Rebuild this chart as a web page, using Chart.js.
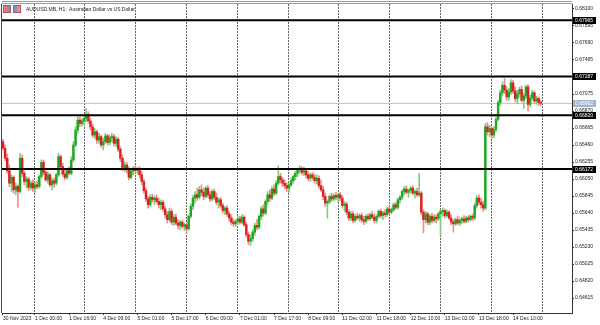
<!DOCTYPE html>
<html>
<head>
<meta charset="utf-8">
<script src="https://cdn.jsdelivr.net/npm/chart.js@4/dist/chart.umd.min.js"></script>
<style>
  html, body { margin: 0; padding: 0; background: #fff; }
  #wrap { position: relative; width: 600px; height: 325px; }
  #title { position: absolute; left: 26px; top: 6px; font: 5px "Liberation Sans", Arial, sans-serif; color: #222; white-space: pre; }
  .ico { position: absolute; top: 5px; width: 6px; height: 6px; border: 1px solid #b55; }
</style>
</head>
<body>
<div id="wrap">
  <canvas id="chart" width="600" height="325"></canvas>
  <span class="ico" style="left:3px;background:linear-gradient(90deg,#e77 50%,#69c 50%)"></span>
  <span class="ico" style="left:13px;background:linear-gradient(90deg,#79c 50%,#e88 50%)"></span>
  <div id="title">AUDUSD.MB, H1:  Australian Dollar vs US Dollar</div>
</div>
<script>
// hourly bars, index 1 = 30 Nov 09:00 ... 253 = 14 Dec 23:00
const opens = [
  0.6650,0.6642,0.6630,0.6615,0.6600,0.6607,0.6592,0.6596,0.6590,0.6630,
  0.6612,0.6602,0.6605,0.6595,0.6600,0.6594,0.6598,0.6596,0.6608,0.6625,
  0.6613,0.6604,0.6610,0.6598,0.6603,0.6600,0.6610,0.6632,0.6620,0.6611,
  0.6607,0.6615,0.6612,0.6628,0.6646,0.6664,0.6676,0.6672,0.6675,0.6678,
  0.6683,0.6675,0.6668,0.6658,0.6662,0.6652,0.6656,0.6646,0.6650,0.6657,
  0.6649,0.6655,0.6656,0.6648,0.6653,0.6641,0.6630,0.6618,0.6622,0.6616,
  0.6607,0.6615,0.6618,0.6615,0.6617,0.6610,0.6602,0.6591,0.6581,0.6574,
  0.6583,0.6580,0.6582,0.6578,0.6574,0.6577,0.6569,0.6562,0.6556,0.6566,
  0.6553,0.6559,0.6552,0.6549,0.6553,0.6548,0.6550,0.6545,0.6560,0.6572,
  0.6582,0.6586,0.6583,0.6592,0.6589,0.6584,0.6594,0.6586,0.6581,0.6590,
  0.6583,0.6577,0.6580,0.6573,0.6567,0.6570,0.6563,0.6558,0.6553,0.6551,
  0.6554,0.6557,0.6553,0.6559,0.6550,0.6538,0.6530,0.6533,0.6541,0.6549,
  0.6547,0.6560,0.6569,0.6564,0.6578,0.6586,0.6582,0.6593,0.6588,0.6600,
  0.6608,0.6604,0.6600,0.6597,0.6594,0.6598,0.6603,0.6608,0.6612,0.6616,
  0.6618,0.6613,0.6615,0.6610,0.6606,0.6610,0.6607,0.6603,0.6606,0.6597,
  0.6592,0.6584,0.6576,0.6578,0.6584,0.6581,0.6585,0.6583,0.6586,0.6582,
  0.6573,0.6575,0.6565,0.6558,0.6563,0.6555,0.6560,0.6558,0.6561,0.6556,
  0.6554,0.6560,0.6557,0.6562,0.6559,0.6555,0.6560,0.6566,0.6561,0.6564,
  0.6562,0.6569,0.6565,0.6568,0.6574,0.6571,0.6580,0.6583,0.6590,0.6593,
  0.6589,0.6591,0.6594,0.6588,0.6590,0.6586,0.6588,0.6565,0.6556,0.6563,
  0.6553,0.6560,0.6555,0.6559,0.6557,0.6563,0.6566,0.6567,0.6561,0.6565,
  0.6558,0.6553,0.6551,0.6556,0.6552,0.6555,0.6557,0.6554,0.6558,0.6556,
  0.6560,0.6558,0.6573,0.6582,0.6577,0.6574,0.6570,0.6668,0.6662,0.6666,
  0.6658,0.6665,0.6677,0.6697,0.6709,0.6718,0.6712,0.6704,0.6710,0.6721,
  0.6711,0.6702,0.6708,0.6713,0.6700,0.6705,0.6716,0.6695,0.6703,0.6709,
  0.6699,0.6702,0.6697
];
const highs = [
  0.6653,0.6646,0.6635,0.6622,0.6610,0.6609,0.6600,0.6598,0.6636,0.6634,
  0.6615,0.6608,0.6607,0.6603,0.6604,0.6601,0.6603,0.6610,0.6628,0.6628,
  0.6618,0.6614,0.6612,0.6606,0.6606,0.6612,0.6636,0.6634,0.6624,0.6616,
  0.6618,0.6620,0.6632,0.6650,0.6668,0.6680,0.6680,0.6678,0.6680,0.6690,
  0.6686,0.6678,0.6671,0.6666,0.6664,0.6660,0.6658,0.6654,0.6660,0.6659,
  0.6658,0.6660,0.6659,0.6656,0.6655,0.6644,0.6634,0.6626,0.6625,0.6620,
  0.6618,0.6620,0.6621,0.6619,0.6620,0.6614,0.6605,0.6594,0.6584,0.6586,
  0.6587,0.6585,0.6586,0.6582,0.6580,0.6579,0.6572,0.6566,0.6570,0.6569,
  0.6562,0.6563,0.6556,0.6555,0.6555,0.6552,0.6552,0.6562,0.6575,0.6585,
  0.6590,0.6594,0.6596,0.6598,0.6594,0.6596,0.6597,0.6590,0.6592,0.6593,
  0.6588,0.6582,0.6583,0.6576,0.6572,0.6573,0.6566,0.6562,0.6557,0.6556,
  0.6560,0.6560,0.6562,0.6561,0.6553,0.6541,0.6538,0.6544,0.6552,0.6556,
  0.6562,0.6572,0.6574,0.6580,0.6590,0.6592,0.6596,0.6598,0.6603,0.6621,
  0.6612,0.6607,0.6604,0.6600,0.6600,0.6606,0.6610,0.6614,0.6618,0.6621,
  0.6620,0.6619,0.6618,0.6614,0.6612,0.6613,0.6611,0.6610,0.6609,0.6604,
  0.6596,0.6588,0.6580,0.6586,0.6588,0.6587,0.6589,0.6587,0.6589,0.6585,
  0.6578,0.6577,0.6568,0.6566,0.6566,0.6562,0.6564,0.6563,0.6564,0.6560,
  0.6562,0.6563,0.6564,0.6566,0.6563,0.6562,0.6568,0.6569,0.6566,0.6568,
  0.6571,0.6572,0.6570,0.6576,0.6577,0.6582,0.6585,0.6592,0.6596,0.6597,
  0.6593,0.6596,0.6597,0.6592,0.6594,0.6612,0.6590,0.6568,0.6566,0.6565,
  0.6562,0.6564,0.6562,0.6562,0.6565,0.6568,0.6570,0.6569,0.6568,0.6567,
  0.6562,0.6556,0.6558,0.6560,0.6558,0.6559,0.6561,0.6560,0.6561,0.6562,
  0.6563,0.6576,0.6585,0.6586,0.6582,0.6578,0.6672,0.6673,0.6670,0.6668,
  0.6668,0.6680,0.6700,0.6712,0.6722,0.6726,0.6716,0.6714,0.6725,0.6724,
  0.6716,0.6712,0.6716,0.6717,0.6708,0.6718,0.6719,0.6706,0.6712,0.6711,
  0.6705,0.6704,0.6700
];
const lows = [
  0.6640,0.6627,0.6612,0.6596,0.6590,0.6588,0.6586,0.6571,0.6588,0.6608,
  0.6598,0.6594,0.6591,0.6592,0.6590,0.6589,0.6593,0.6594,0.6606,0.6610,
  0.6602,0.6600,0.6596,0.6592,0.6595,0.6598,0.6608,0.6618,0.6608,0.6604,
  0.6605,0.6610,0.6610,0.6626,0.6644,0.6660,0.6668,0.6669,0.6670,0.6674,
  0.6672,0.6664,0.6655,0.6654,0.6648,0.6648,0.6643,0.6640,0.6648,0.6646,
  0.6646,0.6650,0.6645,0.6644,0.6638,0.6626,0.6615,0.6614,0.6612,0.6604,
  0.6605,0.6610,0.6612,0.6611,0.6606,0.6598,0.6588,0.6578,0.6570,0.6572,
  0.6577,0.6574,0.6576,0.6570,0.6568,0.6566,0.6558,0.6552,0.6554,0.6550,
  0.6549,0.6550,0.6545,0.6544,0.6546,0.6543,0.6539,0.6543,0.6558,0.6568,
  0.6576,0.6579,0.6581,0.6585,0.6580,0.6582,0.6583,0.6578,0.6579,0.6580,
  0.6574,0.6570,0.6570,0.6564,0.6562,0.6560,0.6554,0.6550,0.6548,0.6548,
  0.6550,0.6551,0.6551,0.6548,0.6535,0.6526,0.6525,0.6530,0.6537,0.6544,
  0.6545,0.6556,0.6560,0.6562,0.6574,0.6578,0.6580,0.6585,0.6586,0.6598,
  0.6600,0.6596,0.6593,0.6590,0.6589,0.6596,0.6600,0.6604,0.6608,0.6612,
  0.6610,0.6609,0.6606,0.6603,0.6602,0.6604,0.6600,0.6599,0.6594,0.6590,
  0.6580,0.6572,0.6558,0.6575,0.6578,0.6579,0.6580,0.6577,0.6579,0.6570,
  0.6566,0.6562,0.6555,0.6555,0.6552,0.6553,0.6556,0.6554,0.6553,0.6550,
  0.6552,0.6555,0.6555,0.6557,0.6552,0.6552,0.6558,0.6558,0.6556,0.6559,
  0.6560,0.6562,0.6563,0.6566,0.6568,0.6569,0.6576,0.6580,0.6586,0.6587,
  0.6583,0.6588,0.6586,0.6582,0.6584,0.6584,0.6562,0.6540,0.6552,0.6550,
  0.6550,0.6552,0.6553,0.6552,0.6555,0.6537,0.6560,0.6558,0.6559,0.6556,
  0.6550,0.6541,0.6549,0.6550,0.6549,0.6551,0.6552,0.6552,0.6553,0.6554,
  0.6555,0.6556,0.6570,0.6574,0.6570,0.6566,0.6568,0.6658,0.6656,0.6654,
  0.6655,0.6662,0.6675,0.6694,0.6705,0.6708,0.6700,0.6700,0.6707,0.6708,
  0.6698,0.6696,0.6704,0.6698,0.6690,0.6702,0.6687,0.6692,0.6700,0.6696,
  0.6695,0.6694,0.6693
];
const closes = [
  0.6642,0.6630,0.6615,0.6600,0.6607,0.6592,0.6596,0.6590,0.6630,0.6612,
  0.6602,0.6605,0.6595,0.6600,0.6594,0.6598,0.6596,0.6608,0.6625,0.6613,
  0.6604,0.6610,0.6598,0.6603,0.6600,0.6610,0.6632,0.6620,0.6611,0.6607,
  0.6615,0.6612,0.6628,0.6646,0.6664,0.6676,0.6672,0.6675,0.6678,0.6683,
  0.6675,0.6668,0.6658,0.6662,0.6652,0.6656,0.6646,0.6650,0.6657,0.6649,
  0.6655,0.6656,0.6648,0.6653,0.6641,0.6630,0.6618,0.6622,0.6616,0.6607,
  0.6615,0.6618,0.6615,0.6617,0.6610,0.6602,0.6591,0.6581,0.6574,0.6583,
  0.6580,0.6582,0.6578,0.6574,0.6577,0.6569,0.6562,0.6556,0.6566,0.6553,
  0.6559,0.6552,0.6549,0.6553,0.6548,0.6550,0.6545,0.6560,0.6572,0.6582,
  0.6586,0.6583,0.6592,0.6589,0.6584,0.6594,0.6586,0.6581,0.6590,0.6583,
  0.6577,0.6580,0.6573,0.6567,0.6570,0.6563,0.6558,0.6553,0.6551,0.6554,
  0.6557,0.6553,0.6559,0.6550,0.6538,0.6530,0.6533,0.6541,0.6549,0.6547,
  0.6560,0.6569,0.6564,0.6578,0.6586,0.6582,0.6593,0.6588,0.6600,0.6608,
  0.6604,0.6600,0.6597,0.6594,0.6598,0.6603,0.6608,0.6612,0.6616,0.6618,
  0.6613,0.6615,0.6610,0.6606,0.6610,0.6607,0.6603,0.6606,0.6597,0.6592,
  0.6584,0.6576,0.6578,0.6584,0.6581,0.6585,0.6583,0.6586,0.6582,0.6573,
  0.6575,0.6565,0.6558,0.6563,0.6555,0.6560,0.6558,0.6561,0.6556,0.6554,
  0.6560,0.6557,0.6562,0.6559,0.6555,0.6560,0.6566,0.6561,0.6564,0.6562,
  0.6569,0.6565,0.6568,0.6574,0.6571,0.6580,0.6583,0.6590,0.6593,0.6589,
  0.6591,0.6594,0.6588,0.6590,0.6586,0.6588,0.6565,0.6556,0.6563,0.6553,
  0.6560,0.6555,0.6559,0.6557,0.6563,0.6566,0.6567,0.6561,0.6565,0.6558,
  0.6553,0.6551,0.6556,0.6552,0.6555,0.6557,0.6554,0.6558,0.6556,0.6560,
  0.6558,0.6573,0.6582,0.6577,0.6574,0.6570,0.6668,0.6662,0.6666,0.6658,
  0.6665,0.6677,0.6697,0.6709,0.6718,0.6712,0.6704,0.6710,0.6721,0.6711,
  0.6702,0.6708,0.6713,0.6700,0.6705,0.6716,0.6695,0.6703,0.6709,0.6699,
  0.6702,0.6697,0.66962
];

// horizontal levels drawn on the chart and the current bid
const levels = [0.67965, 0.67287, 0.66820, 0.66172];
const currentPrice = 0.66962;

// time axis labels (bar index -> text) and day separators
const timeTickBars = [1, 16, 32, 48, 64, 80, 96, 112, 128, 144, 160, 176, 192, 208, 224, 240];
const timeTickLabels = ['30 Nov 2023', '1 Dec 00:00', '1 Dec 16:00', '4 Dec 09:00', '5 Dec 01:00',
  '5 Dec 17:00', '6 Dec 09:00', '7 Dec 01:00', '7 Dec 17:00', '8 Dec 09:00', '11 Dec 02:00',
  '11 Dec 18:00', '12 Dec 10:00', '13 Dec 02:00', '13 Dec 18:00', '14 Dec 10:00'];
const dayStartBars = [16, 39, 63, 87, 111, 135, 158, 182, 206, 230, 254];

// price axis labels
const priceTicks = [0.64615, 0.64820, 0.65025, 0.65230, 0.65435, 0.65640, 0.65845, 0.66050, 0.66255,
  0.66460, 0.66665, 0.66870, 0.67075, 0.67280, 0.67485, 0.67690, 0.67895, 0.68100];

const X_MIN = 0.54, X_MAX = 267.6;
const Y_MIN = 0.64435, Y_MAX = 0.6816;
const FONT = '"Liberation Sans", Arial, sans-serif';

const up = i => closes[i] >= opens[i];
const GREEN = '#1fa81f', RED = '#de1f1f';

const bodies = opens.map((o, i) => ({ x: i + 1, y: [o, closes[i]] }));
const wicks = lows.map((l, i) => ({ x: i + 1, y: [l, highs[i]] }));

const levelSets = levels.map(v => ({
  type: 'line',
  data: [{ x: X_MIN, y: v }, { x: X_MAX, y: v }],
  borderColor: '#000',
  borderWidth: 2,
  pointRadius: 0,
  xAxisID: 'x',
  order: -1
}));

const frame = {
  id: 'frame',
  beforeDatasetsDraw(chart) {
    const { ctx, chartArea: a } = chart;
    ctx.save();
    ctx.strokeStyle = '#999';
    ctx.lineWidth = 1;
    ctx.beginPath();
    ctx.moveTo(a.left, 1.5); ctx.lineTo(a.right, 1.5);
    ctx.moveTo(a.left, 3.5); ctx.lineTo(a.right, 3.5);
    ctx.stroke();
    ctx.strokeStyle = '#444';
    ctx.beginPath();
    ctx.moveTo(1.5, a.top); ctx.lineTo(1.5, a.bottom);
    ctx.stroke();
    ctx.restore();
  }
};

const priceTags = {
  id: 'priceTags',
  afterDraw(chart) {
    const { ctx, chartArea: a, scales: { y } } = chart;
    ctx.save();
    ctx.font = '5px ' + FONT;
    ctx.textBaseline = 'middle';
    const tag = (v, bg) => {
      const py = Math.round(y.getPixelForValue(v));
      ctx.fillStyle = bg;
      ctx.fillRect(a.right + 1, py - 3, 23, 7);
      ctx.fillStyle = '#fff';
      ctx.fillText(v.toFixed(5), a.right + 3, py + 0.5);
    };
    levels.forEach(v => tag(v, '#000'));
    tag(currentPrice, '#a3b5ca');
    ctx.restore();
  }
};

new Chart(document.getElementById('chart'), {
  type: 'bar',
  data: {
    datasets: [
      ...levelSets,
      {
        type: 'line',
        data: [{ x: X_MIN, y: currentPrice }, { x: X_MAX, y: currentPrice }],
        borderColor: '#b4c4d6',
        borderWidth: 1,
        pointRadius: 0,
        order: 3
      },
      {
        data: bodies,
        grouped: false,
        barThickness: 1.8,
        minBarLength: 1,
        borderWidth: 0,
        backgroundColor: c => up(c.dataIndex) ? GREEN : RED,
        order: 0
      },
      {
        data: wicks,
        grouped: false,
        barThickness: 1,
        borderWidth: 0,
        backgroundColor: c => up(c.dataIndex) ? '#7fcc7f' : '#ee8c8c',
        order: 1
      }
    ]
  },
  options: {
    responsive: false,
    animation: false,
    devicePixelRatio: 1,
    layout: { padding: { left: 2, top: 2, right: 0, bottom: 0 } },
    plugins: { legend: { display: false }, tooltip: { enabled: false } },
    scales: {
      x: {
        type: 'linear',
        min: X_MIN,
        max: X_MAX,
        bounds: 'data',
        offset: false,
        grid: { display: true, drawOnChartArea: false, offset: false, tickLength: 2, tickColor: '#333' },
        border: { display: true, color: '#333' },
        afterBuildTicks: s => { s.ticks = timeTickBars.map(v => ({ value: v })); },
        afterFit: s => { s.height = 12; },
        ticks: {
          autoSkip: false,
          maxRotation: 0,
          align: 'start',
          padding: 1,
          color: '#222',
          font: { family: FONT, size: 5 },
          callback: v => timeTickLabels[timeTickBars.indexOf(v)]
        }
      },
      xg: {
        type: 'linear',
        position: 'bottom',
        min: X_MIN,
        max: X_MAX,
        bounds: 'data',
        offset: false,
        grid: { display: true, drawTicks: false, offset: false, color: '#666', lineWidth: 1 },
        border: { display: false, dash: [2, 1] },
        afterBuildTicks: s => { s.ticks = dayStartBars.map(v => ({ value: v })); },
        afterFit: s => { s.height = 0; },
        ticks: { display: false }
      },
      y: {
        type: 'linear',
        position: 'right',
        min: Y_MIN,
        max: Y_MAX,
        bounds: 'data',
        grid: { display: true, drawOnChartArea: false, tickLength: 2, tickColor: '#333' },
        border: { display: true, color: '#333' },
        afterBuildTicks: s => { s.ticks = priceTicks.map(v => ({ value: v })); },
        afterFit: s => { s.width = 28; },
        ticks: {
          autoSkip: false,
          padding: 1,
          color: '#222',
          font: { family: FONT, size: 5 },
          callback: v => v.toFixed(5)
        }
      }
    }
  },
  plugins: [frame, priceTags]
});
</script>
</body>
</html>
